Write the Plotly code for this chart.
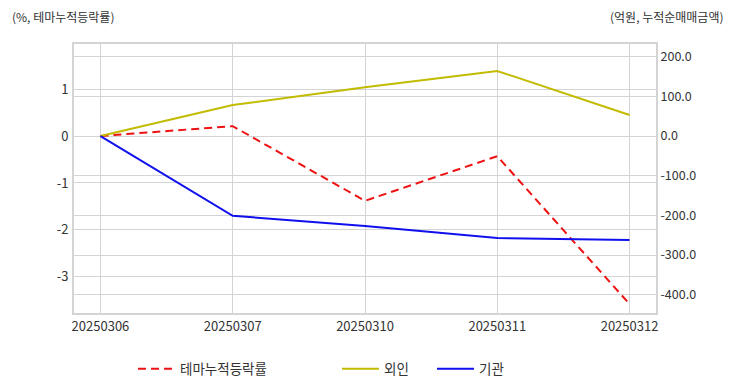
import plotly.graph_objects as go

dates = ["20250306", "20250307", "20250310", "20250311", "20250312"]
theme_rate = [0.0, 0.21, -1.38, -0.43, -3.58]
foreign_amt = [0.0, 78.0, 123.0, 164.0, 53.0]
inst_amt = [0.0, -201.0, -227.0, -257.0, -262.0]

left_ticks = [-3, -2, -1, 0, 1]
right_ticks = [-400, -300, -200, -100, 0, 100, 200]

font = "Noto Sans CJK KR, Noto Sans, sans-serif"
grid = "#d4d4d4"

fig = go.Figure()
fig.add_trace(go.Scatter(x=dates, y=theme_rate, name="테마누적등락률", mode="lines",
                         line=dict(color="#ee1111", dash="8px,5px", width=2), yaxis="y", legend="legend"))
fig.add_trace(go.Scatter(x=dates, y=foreign_amt, name="외인", mode="lines",
                         line=dict(color="#c2bb00", width=2), yaxis="y2", legend="legend2"))
fig.add_trace(go.Scatter(x=dates, y=inst_amt, name="기관", mode="lines",
                         line=dict(color="#1010ee", width=2), yaxis="y2", legend="legend3"))

W = 582.0
def lx(px):
    return (px - 74) / W

leg_common = dict(orientation="h", y=-0.208, yanchor="middle", xanchor="left",
                  font=dict(size=13.5, color="#333"), itemwidth=37, bgcolor="rgba(0,0,0,0)")

fig.update_layout(
    width=732, height=392,
    margin=dict(l=74, r=76, t=44, b=79, autoexpand=False),
    paper_bgcolor="white", plot_bgcolor="white",
    font=dict(family=font, size=11, color="#444"),
    xaxis=dict(type="category", range=[-0.2, 4.2], showgrid=True, gridcolor=grid,
               showline=True, linecolor=grid, linewidth=2, mirror=True, automargin=False,
               ticks="", tickfont=dict(size=13, color="#333")),
    yaxis=dict(range=[-3.77, 1.96], tickvals=left_ticks, ticktext=[str(v) for v in left_ticks],
               showgrid=True, automargin=False,
               gridcolor=grid, zeroline=False, showline=True, linecolor=grid, linewidth=2,
               ticks="", ticklabelstandoff=1, tickfont=dict(size=13, color="#333")),
    yaxis2=dict(range=[-446, 232], overlaying="y", side="right", tickvals=right_ticks,
                ticktext=["%.1f" % v for v in right_ticks], automargin=False,
                showgrid=True, gridcolor=grid, zeroline=False,
                showline=True, linecolor=grid, linewidth=2, ticks="",
                tickfont=dict(size=12.5, color="#333")),
    legend=dict(x=lx(133), **leg_common),
    legend2=dict(x=lx(337), **leg_common),
    legend3=dict(x=lx(432), **leg_common),
    showlegend=True,
)
fig.add_annotation(text="(%, 테마누적등락률)", xref="paper", yref="paper", x=0, xshift=-64,
                   y=1, yshift=28, xanchor="left", yanchor="middle", showarrow=False,
                   font=dict(size=12, color="#333"))
fig.add_annotation(text="(억원, 누적순매매금액)", xref="paper", yref="paper", x=1, xshift=70,
                   y=1, yshift=28, xanchor="right", yanchor="middle", showarrow=False,
                   font=dict(size=12, color="#333"))
fig.write_html("out.html", config={"displayModeBar": False},
               post_script="document.body.style.margin='0';")
